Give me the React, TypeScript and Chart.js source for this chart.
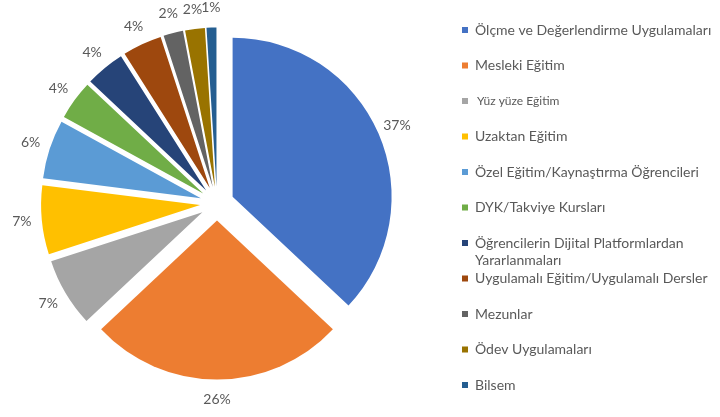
import React, { useEffect, useRef } from "react";
import { Chart, registerables } from "chart.js";

Chart.register(...registerables);

const categories: (string | string[])[] = [
  "Ölçme ve Değerlendirme Uygulamaları",
  "Mesleki Eğitim",
  "Yüz yüze Eğitim",
  "Uzaktan Eğitim",
  "Özel Eğitim/Kaynaştırma Öğrencileri",
  "DYK/Takviye Kursları",
  ["Öğrencilerin Dijital Platformlardan", "Yararlanmaları"],
  "Uygulamalı Eğitim/Uygulamalı Dersler",
  "Mezunlar",
  "Ödev Uygulamaları",
  "Bilsem",
];
const values = [37, 26, 7, 7, 6, 4, 4, 4, 2, 2, 1];
const colors = [
  "#4472C4", "#ED7D31", "#A5A5A5", "#FFC000", "#5B9BD5", "#70AD47",
  "#264478", "#9E480E", "#636363", "#997300", "#255E91",
];

const FONT = "Lato, 'Open Sans', sans-serif";
const TEXT_COLOR = "#595959";
const EXPLODE = 17;

// Shift each slice outward along its mid-angle (without enlarging its radius)
const explode = {
  id: "explode",
  afterUpdate(chart: any) {
    const meta = chart.getDatasetMeta(0);
    meta.data.forEach((arc: any) => {
      const mid = (arc.startAngle + arc.endAngle) / 2;
      arc.x += Math.cos(mid) * EXPLODE;
      arc.y += Math.sin(mid) * EXPLODE;
    });
  },
};

const pctLabels = {
  id: "pctLabels",
  afterDatasetsDraw(chart: any) {
    const ctx = chart.ctx;
    const meta = chart.getDatasetMeta(0);
    const ds = chart.data.datasets[0];
    ctx.save();
    ctx.font = `14px ${FONT}`;
    ctx.fillStyle = TEXT_COLOR;
    ctx.textAlign = "center";
    ctx.textBaseline = "middle";
    meta.data.forEach((arc: any, i: number) => {
      const p = arc.getProps(["x", "y", "startAngle", "endAngle", "outerRadius"], true);
      const mid = (p.startAngle + p.endAngle) / 2;
      const r = p.outerRadius + 20;
      ctx.fillText(`${ds.data[i]}%`, p.x + Math.cos(mid) * r, p.y + Math.sin(mid) * r);
    });
    ctx.restore();
  },
};

const sideLegend = {
  id: "sideLegend",
  afterDraw(chart: any) {
    const ctx = chart.ctx;
    const labels = chart.data.labels as (string | string[])[];
    const bg = chart.data.datasets[0].backgroundColor as string[];
    ctx.save();
    ctx.textBaseline = "middle";
    ctx.textAlign = "left";
    labels.forEach((lab, i) => {
      const y = 30 + i * 35.5;
      ctx.fillStyle = bg[i];
      ctx.fillRect(462, y - 3, 6, 6);
      ctx.fillStyle = TEXT_COLOR;
      const small = i === 2;
      ctx.font = `${small ? 12 : 14}px ${FONT}`;
      const lines = Array.isArray(lab) ? lab : [lab];
      lines.forEach((t, j) => {
        ctx.fillText(t, small ? 477 : 475, y + j * 17);
      });
    });
    ctx.restore();
  },
};

export default function App() {
  const ref = useRef<HTMLCanvasElement>(null);
  useEffect(() => {
    document.body.style.margin = "0";
    const chart = new Chart(ref.current!, {
      type: "pie",
      data: {
        labels: categories as any,
        datasets: [
          {
            data: values,
            backgroundColor: colors,
            borderWidth: 0,
          },
        ],
      },
      options: {
        responsive: false,
        animation: false,
        radius: 159,
        layout: { padding: { left: 0, right: 286, top: 0, bottom: 10 } },
        plugins: {
          legend: { display: false },
          tooltip: { enabled: false },
        },
      } as any,
      plugins: [explode, pctLabels, sideLegend],
    });
    return () => chart.destroy();
  }, []);
  return (
    <div style={{ position: "absolute", left: 0, top: 0, width: 720, height: 417, background: "#fff" }}>
      <canvas ref={ref} width={720} height={417} />
    </div>
  );
}
